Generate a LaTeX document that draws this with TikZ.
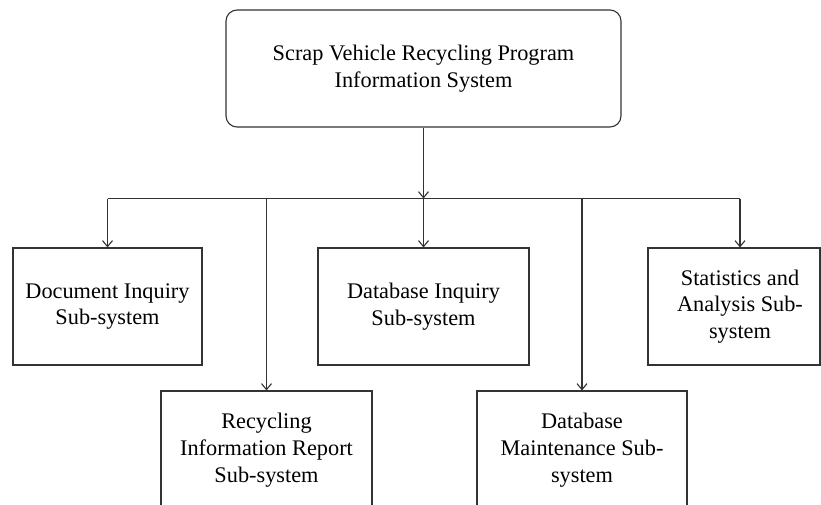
\documentclass[tikz,border=0pt]{standalone}
\usepackage{fontspec}
\setmainfont{Liberation Serif}
\usetikzlibrary{arrows.meta}
\begin{document}
\begin{tikzpicture}[x=1pt,y=-1pt,
  every node/.style={font=\fontsize{22.3pt}{26.8pt}\selectfont, text=black},
  box/.style={draw=black!80, line width=1.1pt, rectangle, inner sep=0pt, align=center},
  link/.style={draw=black!80, line width=1.1pt},
  arr/.style={link, -{Straight Barb[length=6pt,width=10pt]}}]
\useasboundingbox (0,0) rectangle (821,505);
\clip (0,0) rectangle (821,505);
\node[box, rounded corners=11pt, minimum width=395pt, minimum height=117pt] (top) at (423.5,68.5)
  {Scrap Vehicle Recycling Program\\Information System};
\node[box, minimum width=189pt, minimum height=117pt] (doc) at (107.5,306.5)
  {Document Inquiry\\Sub-system};
\node[box, minimum width=211pt, minimum height=117pt] (dbi) at (423.5,306.5)
  {Database Inquiry\\Sub-system};
\node[box, minimum width=172pt, minimum height=117pt] (stat) at (734,306.5)
  {\hspace*{12pt}\begin{tabular}{@{}c@{}}Statistics and\\Analysis Sub-\\system\end{tabular}};
\node[box, minimum width=211pt, minimum height=118pt] (rec) at (266.5,450)
  {Recycling\\Information Report\\Sub-system};
\node[box, minimum width=210pt, minimum height=118pt] (dbm) at (582,450)
  {Database\\Maintenance Sub-\\system};
\coordinate (barL) at (107.5,198.5);
\coordinate (barR) at (740,198.5);
\coordinate (barC) at (423.5,198.5);
\coordinate (barRec) at (266.5,198.5);
\coordinate (barDbm) at (582,198.5);
\draw[link] (barL) -- (barR);
\draw[arr] (top.south) -- (barC);
\draw[arr] (barL) -- (doc.north);
\draw[arr] (barC) -- (dbi.north);
\draw[arr] (barR) -- (barR |- stat.north);
\draw[arr] (barRec) -- (rec.north);
\draw[arr] (barDbm) -- (dbm.north);
\end{tikzpicture}
\end{document}
